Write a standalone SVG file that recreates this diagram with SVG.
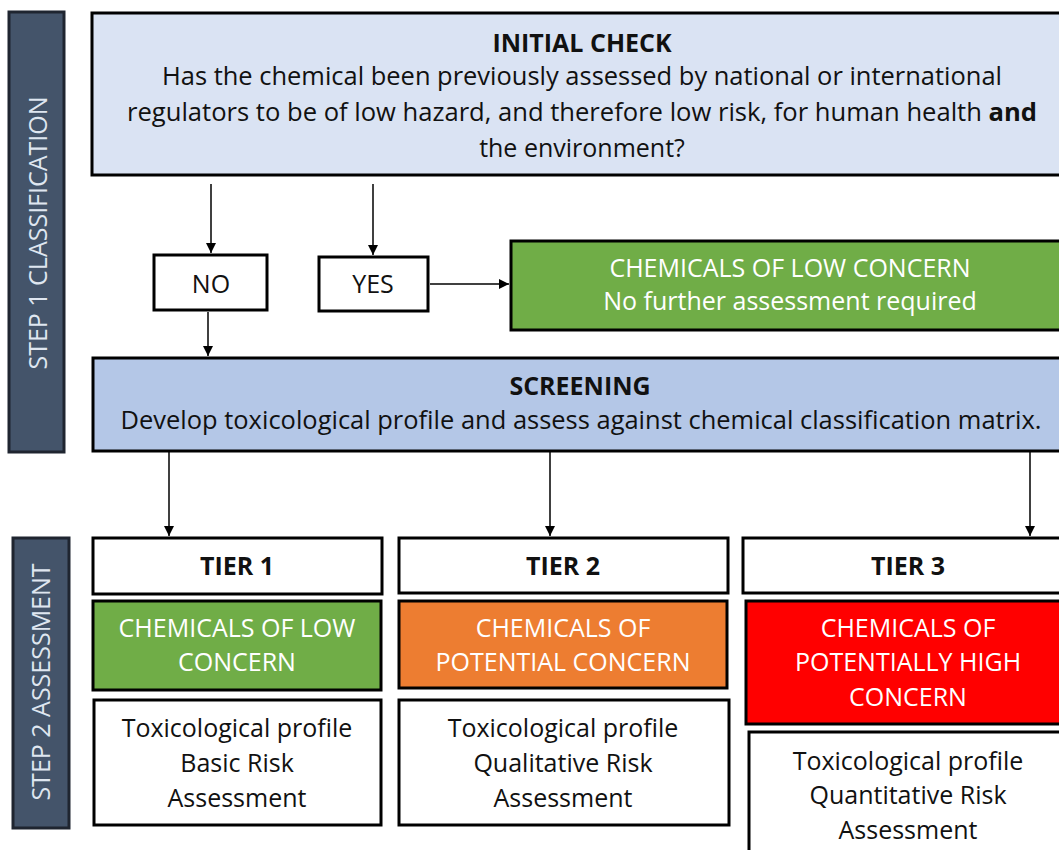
<svg xmlns="http://www.w3.org/2000/svg" width="1059" height="850" viewBox="0 0 1059 850">
<defs>
<marker id="ah" markerWidth="12" markerHeight="12" refX="10" refY="5" orient="auto" markerUnits="userSpaceOnUse">
<path d="M0,0 L10,5 L0,10 Z" fill="#000"/>
</marker>
<style>
text{font-family:"Open Sans","Noto Sans",sans-serif;font-size:25px;text-anchor:middle;fill:#111}
.b{font-weight:bold}
.w{fill:#fff}
.side{fill:#44546a;stroke:#1f2530;stroke-width:3}
.sidet{fill:#dfe6f0;font-size:25px}
.box{stroke:#000;stroke-width:3}
.conn{stroke:#000;stroke-width:1.5;fill:none;marker-end:url(#ah)}
</style>
</defs>
<rect width="1059" height="850" fill="#fff"/>
<g id="step1">
<rect class="side" x="9" y="12" width="55" height="440"/>
<text class="sidet" transform="translate(47,233) rotate(-90)">STEP 1 CLASSIFICATION</text>
</g>
<g id="step2">
<rect class="side" x="13" y="538" width="56" height="290"/>
<text class="sidet" transform="translate(50,682) rotate(-90)">STEP 2 ASSESSMENT</text>
</g>
<g id="initial">
<rect class="box" x="92" y="13" width="975" height="162" fill="#dae3f3"/>
<text class="b" x="582" y="52">INITIAL CHECK</text>
<text x="582" y="85" textLength="840" lengthAdjust="spacingAndGlyphs">Has the chemical been previously assessed by national or international</text>
<text x="582" y="121" textLength="910" lengthAdjust="spacingAndGlyphs">regulators to be of low hazard, and therefore low risk, for human health <tspan class="b">and</tspan></text>
<text x="582" y="157">the environment?</text>
</g>
<g id="no">
<rect class="box" x="154" y="255" width="113" height="55" fill="#fff"/>
<text x="211" y="293">NO</text>
</g>
<g id="yes">
<rect class="box" x="319" y="257" width="109" height="54" fill="#fff"/>
<text x="373" y="293">YES</text>
</g>
<g id="lowconcern">
<rect class="box" x="511" y="241" width="556" height="89" fill="#70ad47"/>
<text class="w" x="790" y="277">CHEMICALS OF LOW CONCERN</text>
<text class="w" x="790" y="310">No further assessment required</text>
</g>
<g id="screening">
<rect class="box" x="93" y="358" width="974" height="93" fill="#b4c7e7"/>
<text class="b" x="580" y="395">SCREENING</text>
<text x="581" y="429" textLength="921" lengthAdjust="spacingAndGlyphs">Develop toxicological profile and assess against chemical classification matrix.</text>
</g>
<g id="tier1">
<rect class="box" x="93" y="538" width="289" height="56" fill="#fff"/>
<text class="b" x="237" y="575">TIER 1</text>
<rect class="box" x="93" y="601" width="288" height="89" fill="#70ad47"/>
<text class="w" x="237" y="637">CHEMICALS OF LOW</text>
<text class="w" x="237" y="671">CONCERN</text>
<rect class="box" x="94" y="700" width="287" height="125" fill="#fff"/>
<text x="237" y="737">Toxicological profile</text>
<text x="237" y="772">Basic Risk</text>
<text x="237" y="807">Assessment</text>
</g>
<g id="tier2">
<rect class="box" x="399" y="538" width="329" height="55" fill="#fff"/>
<text class="b" x="563" y="575">TIER 2</text>
<rect class="box" x="399" y="601" width="328" height="87" fill="#ed7d31"/>
<text class="w" x="563" y="637">CHEMICALS OF</text>
<text class="w" x="563" y="671">POTENTIAL CONCERN</text>
<rect class="box" x="399" y="700" width="330" height="125" fill="#fff"/>
<text x="563" y="737">Toxicological profile</text>
<text x="563" y="772">Qualitative Risk</text>
<text x="563" y="807">Assessment</text>
</g>
<g id="tier3">
<rect class="box" x="743" y="538" width="330" height="55" fill="#fff"/>
<text class="b" x="908" y="575">TIER 3</text>
<rect class="box" x="746" y="601" width="327" height="123" fill="#ff0000"/>
<text class="w" x="908" y="637">CHEMICALS OF</text>
<text class="w" x="908" y="671">POTENTIALLY HIGH</text>
<text class="w" x="908" y="706">CONCERN</text>
<rect class="box" x="749" y="732" width="324" height="130" fill="#fff"/>
<text x="908" y="770">Toxicological profile</text>
<text x="908" y="804">Quantitative Risk</text>
<text x="908" y="839">Assessment</text>
</g>
<g id="connectors">
<line class="conn" x1="211" y1="184" x2="211" y2="253"/>
<line class="conn" x1="373" y1="184" x2="373" y2="255"/>
<line class="conn" x1="208" y1="312" x2="208" y2="356"/>
<line class="conn" x1="430" y1="284" x2="509" y2="284"/>
<line class="conn" x1="169" y1="452" x2="169" y2="536"/>
<line class="conn" x1="550" y1="452" x2="550" y2="536"/>
<line class="conn" x1="1030" y1="452" x2="1030" y2="536"/>
</g>
</svg>
